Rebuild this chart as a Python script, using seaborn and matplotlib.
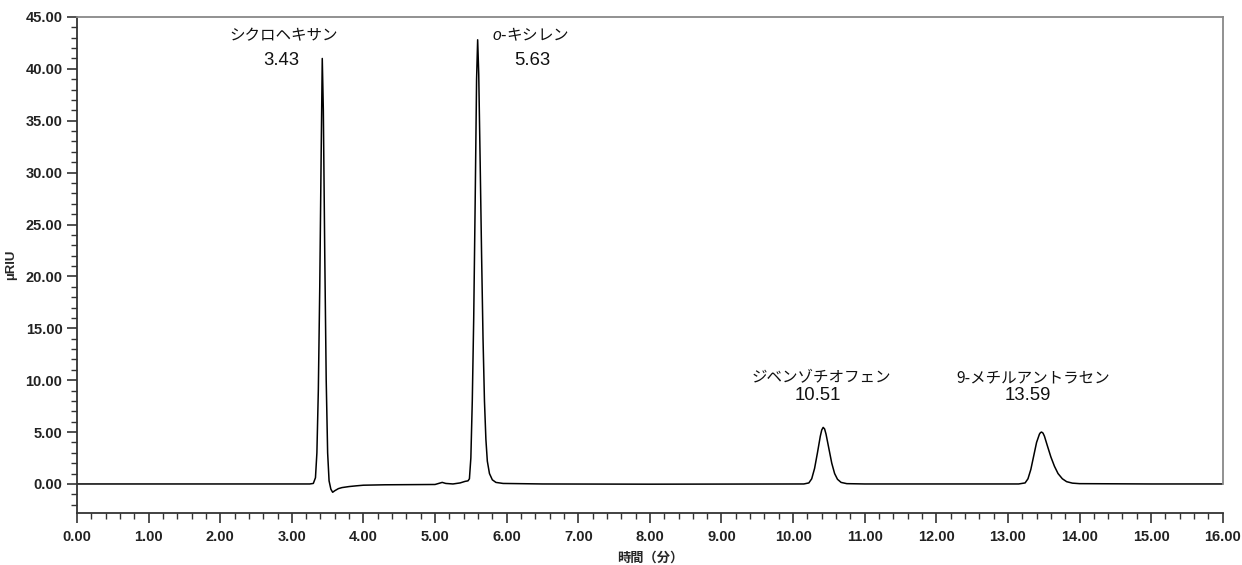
import matplotlib
matplotlib.use('Agg')
import matplotlib.pyplot as plt
from matplotlib.ticker import MultipleLocator, FormatStrFormatter
import seaborn as sns
import pandas as pd

sns.set_style('ticks')
plt.rcParams['font.family'] = ['Liberation Sans', 'Noto Sans CJK JP', 'DejaVu Sans']
plt.rcParams['mathtext.fontset'] = 'custom'
plt.rcParams['mathtext.it'] = 'Liberation Sans:italic'

# chromatogram trace: time (min), signal (uRIU)
time = [0.00, 1.00, 2.00, 3.00, 3.25, 3.30, 3.33, 3.35, 3.37, 3.39, 3.41, 3.425,
        3.44, 3.46, 3.48, 3.50, 3.52, 3.545, 3.57, 3.60, 3.65, 3.70, 3.80, 3.90,
        4.00, 4.30, 5.00, 5.05, 5.10, 5.15, 5.25, 5.35, 5.42, 5.46, 5.48,
        5.50, 5.52, 5.54, 5.56, 5.58, 5.595, 5.61, 5.63, 5.65, 5.67, 5.69, 5.71,
        5.73, 5.76, 5.80, 5.85, 5.95, 6.50, 8.00, 10.15, 10.22, 10.26, 10.30,
        10.34, 10.38, 10.40, 10.42, 10.44, 10.46, 10.50, 10.54, 10.58, 10.62,
        10.67, 10.75, 11.00, 12.00, 13.15, 13.24, 13.28, 13.32, 13.36, 13.40,
        13.44, 13.455, 13.47, 13.49, 13.51, 13.55, 13.60, 13.65, 13.70, 13.76,
        13.82, 13.90, 14.00, 15.00, 16.00]
signal = [0.00, 0.00, 0.00, 0.00, 0.00, 0.05, 0.6, 3.0, 9.0, 19.0, 32.0, 41.0,
          36.0, 22.0, 10.0, 3.0, 0.3, -0.5, -0.8, -0.65, -0.45, -0.35, -0.25, -0.18,
          -0.12, -0.08, -0.05, 0.05, 0.15, 0.05, 0.00, 0.10, 0.25, 0.30, 0.5,
          2.5, 8.0, 16.0, 27.0, 39.0, 42.8, 39.5, 31.0, 22.0, 14.0, 8.0, 4.3,
          2.2, 1.0, 0.4, 0.15, 0.05, 0.00, -0.02, 0.00, 0.10, 0.5, 1.5,
          3.0, 4.6, 5.2, 5.45, 5.3, 4.8, 3.4, 2.0, 1.0, 0.45,
          0.15, 0.03, 0.00, 0.00, 0.00, 0.10, 0.5, 1.4, 2.7, 4.0,
          4.8, 4.95, 5.0, 4.9, 4.6, 3.7, 2.6, 1.7, 1.0, 0.5,
          0.22, 0.08, 0.03, 0.00, 0.00]

peak_names = ['シクロヘキサン', r'$\it{o}$-キシレン', 'ジベンゾチオフェン', '9-メチルアントラセン']
peak_times = ['3.43', '5.63', '10.51', '13.59']
name_x = [2.885, 6.33, 10.40, 13.35]
name_y = [43.2, 43.2, 10.2, 10.2]
time_x = [2.857, 6.36, 10.35, 13.28]
time_y = [40.85, 40.85, 8.57, 8.57]

df = pd.DataFrame({'time': time, 'signal': signal})

fig = plt.figure(figsize=(12.42, 5.65), dpi=100)
ax = fig.add_axes([0.062, 0.092, 0.9225, 0.878])

sns.lineplot(data=df, x='time', y='signal', ax=ax, color='black',
             linewidth=1.1, estimator=None, sort=True)

# peak labels: compound name over retention time
for name, nx, ny in zip(peak_names, name_x, name_y):
    ax.text(nx, ny, name, ha='center', va='center', fontsize=11.2,
            family='Noto Sans CJK JP', color='#111111')
for rt, tx, ty in zip(peak_times, time_x, time_y):
    ax.text(tx, ty, rt, ha='center', va='center', fontsize=13.3, color='#111111')

ax.set_xlim(0, 16)
ax.set_ylim(-2.8, 45)
ax.xaxis.set_major_locator(MultipleLocator(1))
ax.xaxis.set_minor_locator(MultipleLocator(0.2))
ax.yaxis.set_major_locator(MultipleLocator(5))
ax.yaxis.set_minor_locator(MultipleLocator(1))
ax.xaxis.set_major_formatter(FormatStrFormatter('%.2f'))
ax.yaxis.set_major_formatter(FormatStrFormatter('%.2f'))

ax.tick_params(which='major', length=7, width=1.2, color='#333333',
               labelsize=10.5, labelcolor='#222222')
ax.tick_params(axis='x', which='major', pad=5)
ax.tick_params(which='minor', length=4, width=1.0, color='#333333')
for lbl in ax.get_xticklabels() + ax.get_yticklabels():
    lbl.set_fontweight('bold')

ax.set_xlabel('時間（分）', fontsize=9.5, fontweight='bold', labelpad=6)
ax.set_ylabel('µRIU', fontsize=9.5, fontweight='bold', labelpad=6)

for side in ['left', 'bottom']:
    ax.spines[side].set_color('#333333')
    ax.spines[side].set_linewidth(1.3)
for side in ['top', 'right']:
    ax.spines[side].set_color('#888888')
    ax.spines[side].set_linewidth(1.3)
ax.spines['right'].set_bounds(0, 45)

fig.savefig('out.png', dpi=100)
